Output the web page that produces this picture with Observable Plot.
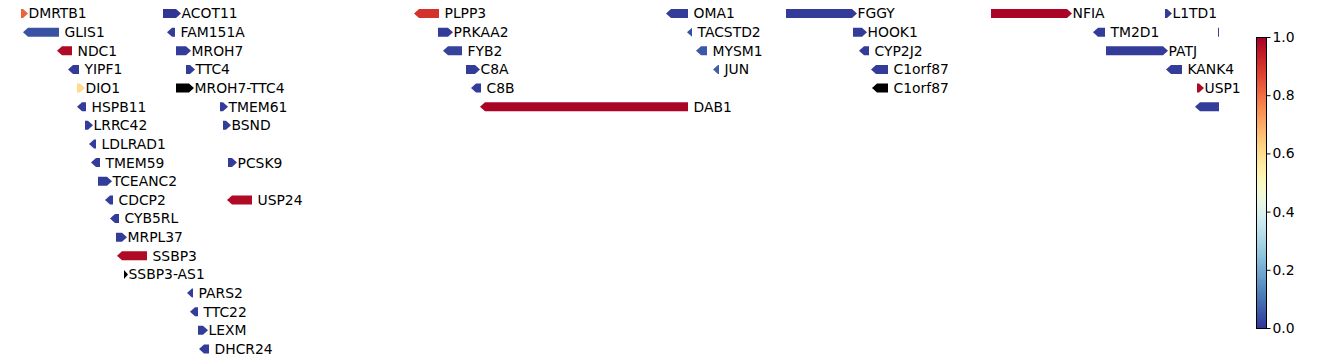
<!DOCTYPE html>
<html>
<head>
<meta charset="utf-8">
<script src="https://cdn.jsdelivr.net/npm/d3@7"></script>
<script src="https://cdn.jsdelivr.net/npm/@observablehq/plot@0.6"></script>
<style>
  html, body { margin: 0; padding: 0; background: white; }
  #wrap { position: relative; width: 1338px; height: 364px; overflow: hidden; }
  #wrap > div, #wrap > svg { position: absolute; top: 0; }
</style>
</head>
<body>
<div id="wrap"></div>
<script>
// ---- data (positions in arbitrary genomic units along the track) ----
const genes   = ["DMRTB1","ACOT11","PLPP3","OMA1","FGGY","NFIA","L1TD1",
                 "GLIS1","FAM151A","PRKAA2","TACSTD2","HOOK1","TM2D1",null,
                 "NDC1","MROH7","FYB2","MYSM1","CYP2J2","PATJ",
                 "YIPF1","TTC4","C8A","JUN","C1orf87","KANK4",
                 "DIO1","MROH7-TTC4","C8B","C1orf87","USP1",
                 "HSPB11","TMEM61","DAB1",null,
                 "LRRC42","BSND",
                 "LDLRAD1",
                 "TMEM59","PCSK9",
                 "TCEANC2",
                 "CDCP2","USP24",
                 "CYB5RL","MRPL37","SSBP3","SSBP3-AS1","PARS2","TTC22","LEXM","DHCR24"];
const starts  = [21,163,414,666,786,991,1165,
                 23,167,438,687,853,1093,1218,
                 57,176,443,696,859,1106,
                 68,186,466,713,871,1166,
                 77,176,471,872,1197,
                 77,220,480,1195,
                 85,223,
                 89,
                 91,228,
                 98,
                 105,227,
                 110,116,117,124,187,190,198,199];
const ends    = [28,181,439,688,857,1072,1172,
                 59,175,453,692,867,1105,1240,
                 72,191,462,707,869,1168,
                 79,195,480,719,888,1182,
                 85,194,481,888,1204,
                 86,228,688,1240,
                 93,231,
                 96,
                 100,237,
                 112,
                 113,252,
                 119,127,147,128,193,198,208,209];
const strands = ["+","+","-","-","+","+","+",
                 "-","-","+","-","+","-","+",
                 "-","+","-","-","-","+",
                 "-","+","+","-","-","-",
                 "+","+","-","-","+",
                 "-","+","-","-",
                 "+","+",
                 "-",
                 "-","+",
                 "+",
                 "-","-",
                 "-","+","-","+","-","-","+","-"];
const rows    = [0,0,0,0,0,0,0,
                 1,1,1,1,1,1,1,
                 2,2,2,2,2,2,
                 3,3,3,3,3,3,
                 4,4,4,4,4,
                 5,5,5,5,
                 6,6,
                 7,
                 8,8,
                 9,
                 10,10,
                 11,12,13,14,15,16,17,18];
const scores  = [0.82,0.0,0.9,0.01,0.01,0.99,0.01,
                 0.045,0.01,0.01,0.04,0.01,0.01,0.02,
                 0.98,0.01,0.02,0.055,0.01,0.01,
                 0.01,0.01,0.01,0.065,0.01,0.01,
                 0.6,null,0.01,null,0.98,
                 0.01,0.01,0.99,0.01,
                 0.01,0.01,
                 0.01,
                 0.01,0.01,
                 0.01,
                 0.01,0.98,
                 0.01,0.01,0.98,null,0.01,0.01,0.01,0.01];
const colorTicks = [0, 0.2, 0.4, 0.6, 0.8, 1.0];

// ---- build tables ----
const table = genes.map((g, i) => ({id: i, gene: g, start: starts[i], end: ends[i],
  strand: strands[i], row: rows[i], score: scores[i]}));

const HALF = 0.2414; // half arrow thickness in row units
const HEAD = 5;      // arrow head length in position units

function shape(d) {
  const s = d.start, e = d.end, r = d.row;
  if (d.strand === "+") {
    const b = Math.max(s, e - HEAD);
    return [
      {id: d.id, score: d.score, x: s, y1: r - HALF, y2: r + HALF},
      {id: d.id, score: d.score, x: b, y1: r - HALF, y2: r + HALF},
      {id: d.id, score: d.score, x: e, y1: r, y2: r}
    ];
  } else {
    const b = Math.min(e, s + HEAD);
    return [
      {id: d.id, score: d.score, x: s, y1: r, y2: r},
      {id: d.id, score: d.score, x: b, y1: r - HALF, y2: r + HALF},
      {id: d.id, score: d.score, x: e, y1: r - HALF, y2: r + HALF}
    ];
  }
}
const scored = table.filter(d => d.score != null).flatMap(shape);
const unscored = table.filter(d => d.score == null).flatMap(shape);
const labelsPlus = table.filter(d => d.gene != null && d.strand === "+");
const labelsMinus = table.filter(d => d.gene != null && d.strand === "-");

const XMAX = 1219;
const font = "'DejaVu Sans', sans-serif";

const main = Plot.plot({
  width: 1338,
  height: 364,
  marginLeft: 0,
  marginRight: 1338 - XMAX,
  marginTop: 0,
  marginBottom: 0,
  style: {fontFamily: font, fontSize: "13.9px", background: "transparent", overflow: "visible"},
  x: {domain: [0, XMAX], range: [0, XMAX], axis: null},
  y: {domain: [0, 18], range: [13.5, 349], axis: null},
  color: {type: "linear", scheme: "RdYlBu", reverse: true, domain: [0, 1]},
  marks: [
    Plot.area(scored, {x1: "x", y1: "y1", y2: "y2", z: "id", fill: "score", clip: true, curve: "linear"}),
    Plot.area(unscored, {x1: "x", y1: "y1", y2: "y2", z: "id", fill: "black", clip: true, curve: "linear"}),
    Plot.text(labelsPlus, {x: "end", y: "row", text: "gene", textAnchor: "start",
      dx: 0, fill: "black", fontSize: 13.9}),
    Plot.text(labelsMinus, {x: "end", y: "row", text: "gene", textAnchor: "start",
      dx: 5, fill: "black", fontSize: 13.9})
  ]
});
main.style.left = "0px";

// ---- colorbar ----
const steps = d3.range(0, 1, 0.004).map(v => ({y1: v, y2: Math.min(1, v + 0.008), v: v + 0.002}));
const cbar = Plot.plot({
  width: 70,
  height: 364,
  marginLeft: 0,
  marginRight: 60,
  marginTop: 37,
  marginBottom: 36,
  style: {fontFamily: font, fontSize: "13.9px", background: "transparent", overflow: "visible", color: "black"},
  x: {domain: [0, 1], axis: null},
  y: {domain: [0, 1]},
  color: {type: "linear", scheme: "RdYlBu", reverse: true, domain: [0, 1]},
  marks: [
    Plot.rect(steps, {x1: 0, x2: 1, y1: "y1", y2: "y2", fill: "v", shapeRendering: "crispEdges"}),
    Plot.frame({stroke: "black", strokeWidth: 1}),
    Plot.axisY({anchor: "right", ticks: colorTicks, tickFormat: d => d.toFixed(1),
      tickSize: 3.5, tickPadding: 2.5, label: null, fontSize: 13.9})
  ]
});
cbar.style.left = "1256px";

const wrap = document.getElementById("wrap");
wrap.appendChild(main);
wrap.appendChild(cbar);
</script>
</body>
</html>
